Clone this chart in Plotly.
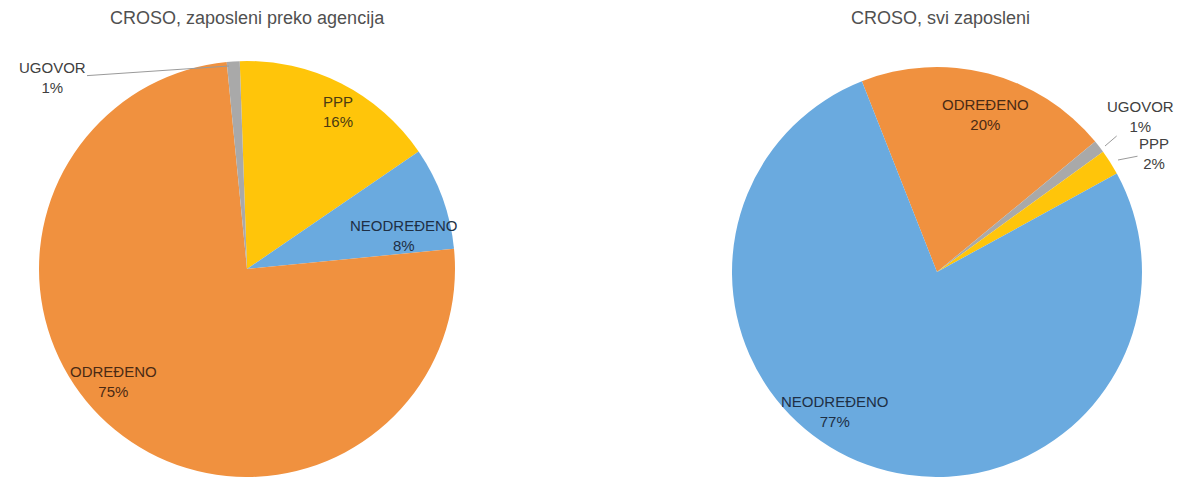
import plotly.graph_objects as go

# ---- data ----
left_title = "CROSO, zaposleni preko agencija"
left_labels = ["PPP", "NEODREĐENO", "ODREĐENO", "UGOVOR"]
left_values = [16, 8, 75, 1]

right_title = "CROSO, svi zaposleni"
right_labels = ["ODREĐENO", "UGOVOR", "PPP", "NEODREĐENO"]
right_values = [20, 1, 2, 77]

# ---- styles ----
W, H = 1187, 477
slice_colors = {
    "ODREĐENO": "#F0913F",
    "NEODREĐENO": "#6AAADF",
    "PPP": "#FFC50A",
    "UGOVOR": "#A9A9A9",
}
label_colors = {
    "ODREĐENO": "#4a2a14",
    "NEODREĐENO": "#1e2f45",
    "PPP": "#4a3a12",
    "UGOVOR": "#404040",
}
FONT = "Liberation Sans, Arial, sans-serif"


def px(x):
    return x / W


def py(y):
    return 1 - y / H


def domain(cx, cy, r):
    return dict(x=[px(cx - r), px(cx + r)], y=[py(cy + r), py(cy - r)])


fig = go.Figure()

fig.add_trace(go.Pie(
    labels=left_labels, values=left_values, sort=False, direction="clockwise",
    rotation=-2, textinfo="none", hoverinfo="label+percent", showlegend=False,
    marker=dict(colors=[slice_colors[l] for l in left_labels], line=dict(width=0)),
    domain=domain(247, 269, 208),
))
fig.add_trace(go.Pie(
    labels=right_labels, values=right_values, sort=False, direction="clockwise",
    rotation=-21.5, textinfo="none", hoverinfo="label+percent", showlegend=False,
    marker=dict(colors=[slice_colors[l] for l in right_labels], line=dict(width=0)),
    domain=domain(937, 272, 205),
))

annotations = []
# titles
for t, cx in [(left_title, 247), (right_title, 940)]:
    annotations.append(dict(
        text=t, x=px(cx), y=py(18), xref="paper", yref="paper",
        showarrow=False, xanchor="center", yanchor="middle",
        font=dict(family=FONT, size=18, color="#505050"),
    ))

# label placement (pixel centres) and optional leader-line targets
left_pos = {"PPP": (338, 112), "NEODREĐENO": (404, 236),
            "ODREĐENO": (113, 381), "UGOVOR": (52, 78)}
left_lead = {"UGOVOR": (229, 66)}
right_pos = {"ODREĐENO": (985, 115), "UGOVOR": (1140, 116),
             "PPP": (1154, 153), "NEODREĐENO": (835, 411)}
right_lead = {"UGOVOR": (1105, 146), "PPP": (1118, 160)}

for labels, values, pos, lead in [(left_labels, left_values, left_pos, left_lead),
                                  (right_labels, right_values, right_pos, right_lead)]:
    total = sum(values)
    for lab, val in zip(labels, values):
        cx, cy = pos[lab]
        txt = f"{lab}<br>{round(100 * val / total)}%"
        font = dict(family=FONT, size=15, color=label_colors[lab] if lab not in lead else "#404040")
        if lab in lead:
            tx, ty = lead[lab]
            annotations.append(dict(
                text=txt, x=px(tx), y=py(ty), xref="paper", yref="paper",
                showarrow=True, arrowhead=0, arrowwidth=1, arrowcolor="#9a9a9a",
                ax=cx - tx, ay=cy - ty, axref="pixel", ayref="pixel",
                font=font, align="center",
            ))
        else:
            annotations.append(dict(
                text=txt, x=px(cx), y=py(cy), xref="paper", yref="paper",
                showarrow=False, xanchor="center", yanchor="middle",
                font=font, align="center",
            ))

fig.update_layout(
    width=W, height=H,
    margin=dict(l=0, r=0, t=0, b=0),
    paper_bgcolor="white", plot_bgcolor="white",
    annotations=annotations,
)

fig.write_html("out.html")
